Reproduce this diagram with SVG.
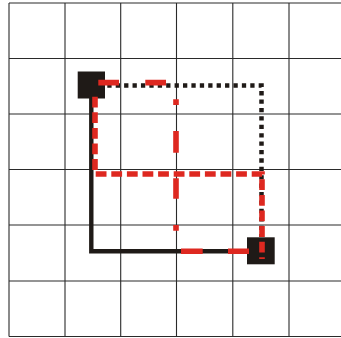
<svg xmlns="http://www.w3.org/2000/svg" width="341" height="338" viewBox="0 0 341 338">
  <style>
    .grid line { stroke: #2a2a2a; stroke-width: 1.1; }
    .solid { fill: none; stroke: #1f1a17; stroke-width: 4.4; stroke-linejoin: miter; }
    .dotted { fill: none; stroke: #1f1a17; stroke-width: 4.5; stroke-dasharray: 4.3 4.11; }
    .red { fill: none; stroke: #de2820; stroke-width: 5.6; }
    .node { fill: #1f1a17; }
  </style>
  <rect width="341" height="338" fill="#ffffff"/>
  <g class="grid" id="grid">
    <line x1="9" y1="3" x2="9" y2="336.5"/>
    <line x1="65" y1="3" x2="65" y2="336.5"/>
    <line x1="120.7" y1="3" x2="120.7" y2="336.5"/>
    <line x1="176.5" y1="3" x2="176.5" y2="336.5"/>
    <line x1="232.8" y1="3" x2="232.8" y2="336.5"/>
    <line x1="289" y1="3" x2="289" y2="336.5"/>
    <line x1="9" y1="3" x2="341" y2="3"/>
    <line x1="9" y1="58.5" x2="341" y2="58.5"/>
    <line x1="9" y1="114" x2="341" y2="114"/>
    <line x1="9" y1="169.5" x2="341" y2="169.5"/>
    <line x1="9" y1="225" x2="341" y2="225"/>
    <line x1="9" y1="281" x2="341" y2="281"/>
    <line x1="9" y1="336.5" x2="341" y2="336.5"/>
  </g>
  <g id="connectors">
    <path class="solid" d="M91.3,98 V251.2 H248"/>
    <path class="dotted" d="M107.3,85.5 H261.5 V237"/>
  </g>
  <g id="node-a">
    <rect class="node" x="77.7" y="71.5" width="27.3" height="27"/>
  </g>
  <g id="node-b">
    <rect class="node" x="247" y="237.3" width="27.7" height="27"/>
  </g>
  <g id="red-connectors">
    <path class="red" d="M95,96.7 V174 H262 V259" stroke-dasharray="10.8 4.8"/>
    <path class="red" d="M98.3,82.6 H166" stroke-dasharray="20.7 26.3 21"/>
    <path class="red" d="M176,99.3 V230.7" stroke-dasharray="5.7 26 21.7 25.6 20.4 26.3 5.7"/>
    <path class="red" d="M181,251.2 H249" stroke-dasharray="21.7 25.3 21"/>
  </g>
</svg>
